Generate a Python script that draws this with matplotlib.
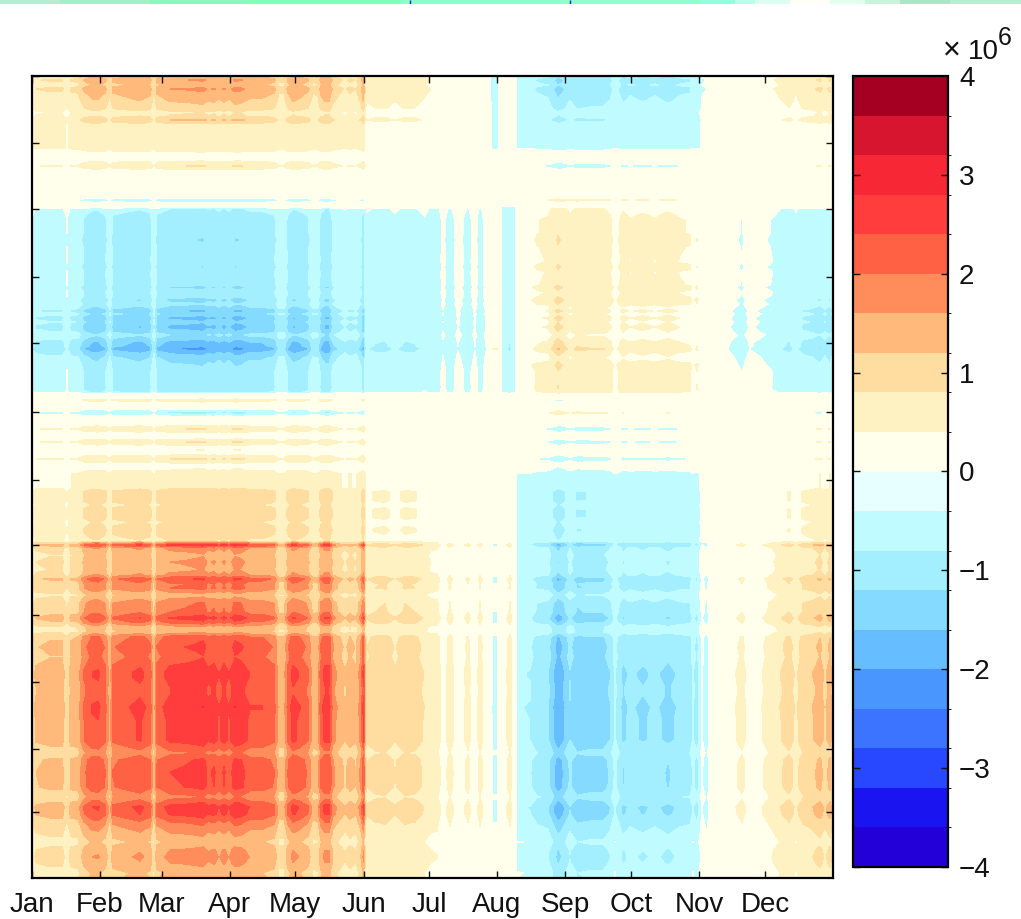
import numpy as np
import matplotlib
matplotlib.use("Agg")
import matplotlib.pyplot as plt
from matplotlib.cm import ScalarMappable
from matplotlib.colors import ListedColormap, BoundaryNorm

plt.rcParams['font.family'] = ['Liberation Sans', 'DejaVu Sans']

month_labels = ['Jan','Feb','Mar','Apr','May','Jun','Jul','Aug','Sep','Oct','Nov','Dec']
x_month_ticks = [32,100,161.5,229.5,295,363.5,429,497,565,631,699,765]
y_month_ticks = [76,143,209,277,343,412,480,545,615,682,749,812]

col_pos = [32,36,50,62,67,71,78,84,92,98,105,110,113,125,140,150,154,157,170,184,196,203,208,214,219,224,229,235,241,250,
           262,274,279,284,288,293,300,308,313,318,321,325,329,333,340,345,350,356,361,363.5,365.5,367,375,385,395,405,415,425,
           431,437,443,450,458,468,475,480,487,493,497,502,510,515,517,519,530,537,548,558,562,570,577,590,603,610,615,623,630,643,655,
           668,680,690,693,697,702,707,712,725,742,750,760,775,789,796,803,812,820,825,830,833]
col_weight = [0.40,0.50,0.54,0.54,0.38,0.54,0.56,0.80,0.94,0.96,0.84,0.55,0.84,0.90,0.98,0.88,0.50,0.86,1.00,1.02,1.05,1.08,0.98,1.02,0.93,1.02,0.93,1.08,1.05,0.93,
              0.93,0.84,0.56,0.56,0.84,1.00,0.93,0.81,0.56,0.60,0.88,1.00,1.00,0.70,0.56,0.48,0.56,0.50,0.72,1.00,0.40,0.34,0.40,0.42,0.33,0.42,0.40,0.30,
              0.25,0.24,0.10,0.22,0.08,0.20,0.08,0.22,0.06,-0.20,-0.20,0.07,0.22,0.05,-0.30,-0.30,-0.32,-0.42,-0.46,-0.78,-0.70,-0.48,-0.62,-0.58,-0.58,-0.48,-0.30,-0.52,-0.44,-0.50,-0.44,
              -0.52,-0.44,-0.42,-0.30,-0.40,-0.15,-0.25,0.03,0.08,0.20,0.10,0.14,0.26,0.40,0.28,0.42,0.46,0.55,0.44,0.55,0.40]

row_pos = [76,80,85,89,94,100,108,112,116,120,124,130,140,148,152,160,166,170,180,190,195,198,200,204,207,209,215,220,
           233,240,247,262,267,272,285,287,292,296,300,304,308,311,314,318,322,327,332,335,338,342,346,349,353,358,365,372,378,384,387,390,392.5,394,
           398,400,404,408,410,413,416,420,425,429,433,438,442,446,450,454,459,464,470,474,488,492,500,505,510,517,522,530,537,541,543,545,548,
           555,562,570,575,579,584,588,595,603,612,618,622,627,632,637,647,657,672,677,687,695,707,720,740,753,760,772,787,797,807,814,823,833,842,850,857,863,873,878]
row_amp = [1.20,1.55,1.30,1.60,1.40,1.25,1.00,0.75,0.82,1.20,0.62,0.62,0.62,0.62,0.38,0.30,0.78,0.32,0.25,0.18,0.05,-0.20,-0.85,-0.05,-0.10,-0.80,-0.95,-1.05,
           -1.05,-1.15,-1.05,-1.00,-1.15,-1.00,-1.05,-1.25,-1.00,-1.05,-1.30,-1.10,-1.35,-1.65,-1.35,-1.70,-1.45,-1.70,-1.45,-1.20,-1.40,-1.70,-1.80,-2.05,-1.65,-1.35,-1.15,-1.00,-1.00,-1.00,-1.05,-1.00,-0.90,0.05,
           0.20,0.55,0.20,0.10,-0.50,-0.98,-0.40,0.15,0.30,0.78,0.30,0.25,0.78,0.30,0.38,0.30,0.80,0.30,0.40,0.74,0.74,1.05,1.05,0.85,1.05,1.05,0.85,1.05,0.90,0.80,1.70,2.50,1.70,
           1.45,1.60,1.50,1.70,2.30,1.95,2.00,1.35,1.90,2.00,2.45,2.15,1.45,1.40,2.15,2.35,2.20,2.55,2.55,2.40,2.40,2.60,2.50,2.50,1.90,2.30,2.40,2.35,1.85,2.55,2.45,1.95,1.60,1.30,1.60,1.70,1.60,1.30,1.35]

adjust_row_edges = [76,122,150,163,172,205,305,360,393,470,545,878]
adjust_col_edges = [32,365,430,493,499,517,705,765,833]
adjust_r76  = [0,0,0,-0.40,0,-0.20,0,0]
adjust_r122 = [0.13,0,0,-0.40,0,-0.25,0,0]
adjust_r150 = [0,0,0,0,0,0,0,0]
adjust_r163 = [0,0,0,0,0,-0.10,0,0]
adjust_r172 = [0,0,0,0,0,0,0,0]
adjust_r205 = [0,-0.10,-0.25,0,-0.45,-0.05,-0.20,-0.15]
adjust_r305 = [0,-0.10,-0.25,0,-0.45,-0.35,-0.20,-0.15]
adjust_r360 = [0,-0.10,-0.25,0,-0.45,0,-0.20,-0.15]
adjust_r393 = [0,0,0,0,0,-0.10,0,0]
adjust_r470 = [0,0,0,0,0,-0.18,0,0]
adjust_r545 = [0,0,0,0,0,0,0,0]
adjust_table = np.array([adjust_r76,adjust_r122,adjust_r150,adjust_r163,adjust_r172,adjust_r205,
                         adjust_r305,adjust_r360,adjust_r393,adjust_r470,adjust_r545])

band_edges = np.arange(-4.0, 4.01, 0.4)
band_colors = ['#2400D8','#1A14F0','#2848FF','#3D74FF','#4A96FF','#66BDFF','#85DAFF','#A3EEFF','#C0FBFF','#E8FFFF',
               '#FFFFEB','#FFF2C2','#FFDC9F','#FFB97B','#FF8D5C','#FF6145','#FF3D3D','#F72735','#D8152F','#A50021']
field_colors = band_colors[:9] + ['#FFFFEB'] + band_colors[10:]

strip_pos = [0,60,150,250,400,560,700,735,755,790,830,865,900,950,1021]
strip_colors = ['#B8ECD2','#A0F0C8','#88F8BC','#80FFB8','#88FFCC','#90FFD0','#90FFDC','#B8FFEC','#DCFFF4','#FFFFF8','#E0FFEE','#C8F4DC','#A8E6C4','#B4F0D0','#B4F0D0']
strip_marks = [410, 570]

W, H = 1021, 919
fig = plt.figure(figsize=(W/100, H/100), dpi=100)

def box(l, t, r, b):
    return [l/W, 1-b/H, (r-l)/W, (b-t)/H]

ax = fig.add_axes(box(32, 76, 833, 878))
ri = np.clip(np.searchsorted(adjust_row_edges, row_pos, side='right')-1, 0, adjust_table.shape[0]-1)
ci = np.clip(np.searchsorted(adjust_col_edges, col_pos, side='right')-1, 0, adjust_table.shape[1]-1)
Z = np.outer(row_amp, col_weight) + adjust_table[np.ix_(ri, ci)]
norm = BoundaryNorm(band_edges, len(band_colors))
cs = ax.contourf(col_pos, row_pos, Z, levels=band_edges, cmap=ListedColormap(field_colors), norm=norm)
ax.set_xlim(32, 833)
ax.set_ylim(878, 76)
ax.set_xticks(x_month_ticks)
ax.set_xticklabels(month_labels, fontsize=20)
ax.set_yticks(y_month_ticks)
ax.set_yticklabels([])
ax.tick_params(direction='in', length=5, width=1, top=True, right=True, left=True, bottom=True, pad=10, colors='#111111')
for s in ax.spines.values():
    s.set_linewidth(1.6)

cax = fig.add_axes(box(853, 76, 948, 867))
cb = fig.colorbar(ScalarMappable(norm=norm, cmap=ListedColormap(band_colors)), cax=cax, ticks=np.arange(-4, 5, 1))
cb.ax.set_yticklabels(['\u22124','\u22123','\u22122','\u22121','0','1','2','3','4'], fontsize=20)
cb.ax.tick_params(direction='in', length=5, width=1, left=True, right=True, pad=8, colors='#111111')
cb.outline.set_linewidth(1.6)
fig.text(943/W, 1-59/H, '\u00d7', fontsize=22, ha='left', va='baseline', color='#111111')
fig.text(968/W, 1-59/H, '10', fontsize=20, ha='left', va='baseline', color='#111111')
fig.text(998/W, 1-45/H, '6', fontsize=18, ha='left', va='baseline', color='#111111')

sax = fig.add_axes(box(0, 0, W, 4))
sax.pcolormesh(strip_pos, [0, 1], np.arange(len(strip_colors)-1).reshape(1, -1),
               cmap=ListedColormap(strip_colors[:-1]), shading='flat')
sax.vlines(strip_marks, 0, 1, color='#1020E0', lw=1)
sax.set_xlim(0, W)
sax.axis('off')

fig.savefig('out.png', dpi=100)
